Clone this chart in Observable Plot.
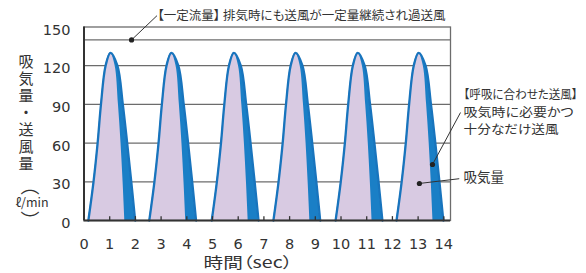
<!DOCTYPE html>
<html><head><meta charset="utf-8">
<script src="https://cdn.jsdelivr.net/npm/d3@7"></script>
<script src="https://cdn.jsdelivr.net/npm/@observablehq/plot@0.6"></script>
<style>
html,body{margin:0;padding:0;background:#fff;}
</style>
</head><body><div id="chart"></div>
<script>
// peak time (sec) of each breath
const peakTimes = [1.03, 3.40, 5.83, 8.23, 10.65, 13.02];
// 送風 (air delivered) outline of one breath, relative to its peak
const airOffsets = [-0.86, -0.66, -0.50, -0.37, -0.19, 0, 0.27, 0.48, 0.65, 0.81, 0.96];
const airValues  = [0, 30, 60, 90, 120, 130, 120, 90, 60, 30, 0];
// 吸気量 (inhaled volume) outline of one breath, relative to its peak
const inhaleOffsets = [-0.86, -0.66, -0.50, -0.37, -0.19, 0, 0.18, 0.31, 0.41, 0.49, 0.56];
const inhaleValues  = [0, 30, 60, 90, 120, 130, 120, 90, 60, 30, 0];
const constantFlow = 140;
const yTicks = [0, 30, 60, 90, 120, 150];
const gridValues = [30, 60, 90, 120];
const xTicks = [0, 1, 2, 3, 4, 5, 6, 7, 8, 9, 10, 11, 12, 13, 14];

const yTitle = "吸気量・送風量";
const unitLabel = "ℓ/min";
const unitOpen = "︵";
const unitClose = "︶";
const xTitle = "時間（sec）";
const topNote = "【一定流量】 排気時にも送風が一定量継続され過送風";
const rightNote1 = "【呼吸に合わせた送風】";
const rightNote2 = "吸気時に必要かつ";
const rightNote3 = "十分なだけ送風";
const rightNote4 = "吸気量";

const air = peakTimes.flatMap((p, i) => airOffsets.map((o, j) => ({t: p + o, v: airValues[j], c: i})));
const inhale = peakTimes.flatMap((p, i) => inhaleOffsets.map((o, j) => ({t: p + o, v: inhaleValues[j], c: i})));

const CJK = "'Noto Sans CJK JP', 'Noto Sans', sans-serif";
const ink = "#333";

const svg = Plot.plot({
  width: 586, height: 273,
  marginLeft: 83.5, marginRight: 136, marginTop: 26.5, marginBottom: 53,
  x: {domain: [0, 14.26]},
  y: {domain: [0, 150]},
  style: {fontFamily: "'DejaVu Sans', sans-serif", fontSize: "14.5px", color: ink, background: "#fff", overflow: "visible"},
  marks: [
    Plot.ruleY(gridValues, {stroke: "#6c6c6c", strokeWidth: 1.3}),
    Plot.ruleY([constantFlow], {stroke: "#6c6c6c", strokeWidth: 1.3}),
    Plot.areaY(air, {x: "t", y: "v", z: "c", fill: "#1a7fc6", curve: "catmull-rom"}),
    Plot.areaY(inhale, {x: "t", y: "v", z: "c", fill: "#d8cae2", curve: "catmull-rom"}),
    Plot.lineY(air, {x: "t", y: "v", z: "c", stroke: "#1874bd", strokeWidth: 2.3, curve: "catmull-rom"}),
    Plot.frame({stroke: "#6c6c6c", strokeWidth: 1.3}),
    Plot.ruleX(xTicks, {y1: 0, y2: 3, stroke: "#333", strokeWidth: 1.3}),
    Plot.ruleX([0], {stroke: "#333", strokeWidth: 2}),
    Plot.ruleY([0], {stroke: "#333", strokeWidth: 2}),
    Plot.axisY(yTicks, {tickSize: 0, tickPadding: 13.5, dy: 3, label: null, fill: ink, fontSize: 14.5}),
    Plot.axisX(xTicks, {tickSize: 0, tickPadding: 18.5, label: null, fill: ink, fontSize: 14.5}),
    // axis titles
    Plot.text([yTitle], {frameAnchor: "top-left", dx: -58, dy: 26.5, textAnchor: "start", fontFamily: CJK, fontSize: 15, fill: ink}),
    Plot.text([unitOpen], {frameAnchor: "top-left", dx: -54, dy: 159.8, lineAnchor: "middle", textAnchor: "middle", fontFamily: CJK, fontSize: 19, fill: ink}),
    Plot.text([unitLabel], {frameAnchor: "top-left", dx: -52, dy: 175.5, lineAnchor: "middle", textAnchor: "middle", fontFamily: CJK, fontSize: 12.5, fill: ink}),
    Plot.text([unitClose], {frameAnchor: "top-left", dx: -54, dy: 194.5, lineAnchor: "middle", textAnchor: "middle", fontFamily: CJK, fontSize: 19, fill: ink}),
    Plot.text([xTitle], {frameAnchor: "bottom-left", dx: 119.5, dy: 43, lineAnchor: "middle", textAnchor: "start", fontFamily: CJK, fontSize: 15, fill: ink}),
    // top note
    Plot.link([0], {x1: 1.85, y1: constantFlow, x2: 2.84, y2: 158.8, stroke: "#333", strokeWidth: 1}),
    Plot.dot([0], {x: 1.85, y: constantFlow, r: 2.6, fill: "#222"}),
    Plot.text([topNote], {x: 2.86, y: 158.3, textAnchor: "start", lineAnchor: "middle", fontFamily: CJK, fontSize: 12.5, fill: ink}),
    // right notes
    Plot.link([0], {x1: 13.56, y1: 43.4, x2: 14.65, y2: 83.7, stroke: "#333", strokeWidth: 1}),
    Plot.dot([0], {x: 13.56, y: 43.4, r: 2.6, fill: "#222"}),
    Plot.link([0], {x1: 13.05, y1: 28.7, x2: 14.6, y2: 32.4, stroke: "#333", strokeWidth: 1}),
    Plot.dot([0], {x: 13.05, y: 28.7, r: 2.6, fill: "#222"}),
    Plot.text([rightNote1], {x: 14.77, y: 96.9, textAnchor: "start", lineAnchor: "middle", fontFamily: CJK, fontSize: 12, fill: ink}),
    Plot.text([rightNote2], {x: 14.77, y: 83.3, textAnchor: "start", lineAnchor: "middle", fontFamily: CJK, fontSize: 12.5, fill: ink}),
    Plot.text([rightNote3], {x: 14.77, y: 70.2, textAnchor: "start", lineAnchor: "middle", fontFamily: CJK, fontSize: 12.5, fill: ink}),
    Plot.text([rightNote4], {x: 14.77, y: 33.3, textAnchor: "start", lineAnchor: "middle", fontFamily: CJK, fontSize: 13.5, fill: ink})
  ]
});

// condense the bracketed notes and the x title to the reference widths
const textWidths = new Map([[topNote, 288], [rightNote1, 114], [xTitle, 89], [rightNote2, 110], [rightNote3, 95]]);
d3.select(svg).selectAll("text").each(function() {
  const t = this.textContent;
  const w = textWidths.get(t);
  if (w) {
    d3.select(this)
      .style("font-feature-settings", "'palt'")
      .attr("textLength", w)
      .attr("lengthAdjust", "spacingAndGlyphs");
  }
  if (t === yTitle) {
    d3.select(this)
      .attr("y", null).attr("dy", null)
      .style("writing-mode", "vertical-rl")
      .style("letter-spacing", "2px");
  }
});

document.getElementById("chart").appendChild(svg);
</script>
</body></html>
